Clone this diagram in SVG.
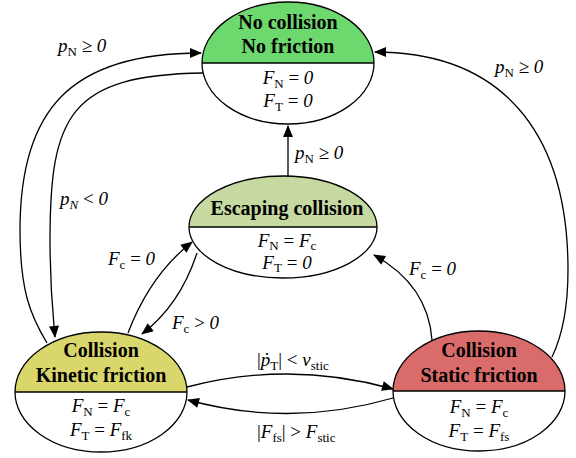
<svg xmlns="http://www.w3.org/2000/svg" width="576" height="458" viewBox="0 0 576 458">
<style>
text{font-family:'Liberation Serif','Tinos','DejaVu Serif','Noto Serif',serif;fill:#000}
.t{font-size:20px;font-weight:bold;text-anchor:middle}
.m{font-size:19px}
.mc{font-size:19px;text-anchor:middle}
.i{font-style:italic}
.s{font-size:13px}
.e{fill:none;stroke:#000;stroke-width:1.3}
.d{stroke:#000;stroke-width:1.6}
.c{fill:none;stroke:#000;stroke-width:1.3;marker-end:url(#ah)}
</style>
<defs>
<marker id="ah" viewBox="0 0 12 10" refX="11" refY="5" markerWidth="13" markerHeight="10" markerUnits="userSpaceOnUse" orient="auto">
<path d="M0,0 L12,5 L0,10 Z" fill="#000"/>
</marker>
</defs>
<rect width="576" height="458" fill="#fff"/>

<g id="connectors">
<path class="c" d="M47,343 C30,315 20,290 20,230 C20,110 70,53 201,53"/>
<path class="c" d="M203,73 C70,75 50,115 50,240 C50,290 53,315 55,337"/>
<path class="c" d="M552,357 C565,330 568,300 568,270 C568,130 500,52 375,52"/>
<path class="c" d="M288,179 L288,126"/>
<path class="c" d="M432,340 Q428,285 374,255"/>
<path class="c" d="M128,333 Q150,275 192,242"/>
<path class="c" d="M197,253 Q180,305 142,334"/>
<path class="c" d="M187,387 Q290,360 393,389"/>
<path class="c" d="M393,398 Q290,428 188,400"/>
</g>

<g id="labels">
<text class="m" x="58" y="52"><tspan class="i">p</tspan><tspan class="s" dy="4">N</tspan><tspan dy="-4"> ≥ </tspan><tspan class="i">0</tspan></text>
<text class="m" x="60" y="205"><tspan class="i">p</tspan><tspan class="s i" dy="4">N</tspan><tspan dy="-4"> &lt; </tspan><tspan class="i">0</tspan></text>
<text class="m" x="495" y="73"><tspan class="i">p</tspan><tspan class="s" dy="4">N</tspan><tspan dy="-4"> ≥ </tspan><tspan class="i">0</tspan></text>
<text class="m" x="295" y="159"><tspan class="i">p</tspan><tspan class="s" dy="4">N</tspan><tspan dy="-4"> ≥ </tspan><tspan class="i">0</tspan></text>
<text class="m" x="409" y="275"><tspan class="i">F</tspan><tspan class="s" dy="4">c</tspan><tspan dy="-4"> = </tspan><tspan class="i">0</tspan></text>
<text class="m" x="108" y="265"><tspan class="i">F</tspan><tspan class="s" dy="4">c</tspan><tspan dy="-4"> = </tspan><tspan class="i">0</tspan></text>
<text class="m" x="172" y="329"><tspan class="i">F</tspan><tspan class="s" dy="4">c</tspan><tspan dy="-4"> &gt; </tspan><tspan class="i">0</tspan></text>
<text class="m" x="257" y="366">|<tspan class="i">ṗ</tspan><tspan class="s" dy="4">T</tspan><tspan dy="-4">| &lt; </tspan><tspan class="i">v</tspan><tspan class="s" dy="4">stic</tspan></text>
<text class="m" x="257" y="438">|<tspan class="i">F</tspan><tspan class="s" dy="4">fs</tspan><tspan dy="-4">| &gt; </tspan><tspan class="i">F</tspan><tspan class="s" dy="4">stic</tspan></text>
</g>

<g id="no-collision">
<path d="M202,63 A86,61 0 0 1 374,63 Z" fill="#6dd86d"/>
<ellipse class="e" cx="288" cy="63" rx="86" ry="61"/>
<line class="d" x1="202" y1="63" x2="374" y2="63"/>
<text class="t" x="288" y="29">No collision</text>
<text class="t" x="288" y="53">No friction</text>
<text class="mc" x="288" y="84"><tspan class="i">F</tspan><tspan class="s" dy="4">N</tspan><tspan dy="-4"> = </tspan><tspan class="i">0</tspan></text>
<text class="mc" x="288" y="107"><tspan class="i">F</tspan><tspan class="s" dy="4">T</tspan><tspan dy="-4"> = </tspan><tspan class="i">0</tspan></text>
</g>

<g id="escaping">
<path d="M189,227 A94,51 0 0 1 377,227 Z" fill="#c5d9a0"/>
<ellipse class="e" cx="283" cy="227" rx="94" ry="51"/>
<line class="d" x1="189" y1="227" x2="377" y2="227"/>
<text class="t" x="287" y="215">Escaping collision</text>
<text class="mc" x="287" y="247"><tspan class="i">F</tspan><tspan class="s" dy="3">N</tspan><tspan dy="-3"> = </tspan><tspan class="i">F</tspan><tspan class="s" dy="3">c</tspan></text>
<text class="mc" x="287" y="269"><tspan class="i">F</tspan><tspan class="s" dy="3">T</tspan><tspan dy="-3"> = </tspan><tspan class="i">0</tspan></text>
</g>

<g id="kinetic">
<path d="M15,392 A86,60 0 0 1 187,392 Z" fill="#d9d66b"/>
<ellipse class="e" cx="101" cy="392" rx="86" ry="60"/>
<line class="d" x1="15" y1="392" x2="187" y2="392"/>
<text class="t" x="101" y="357">Collision</text>
<text class="t" x="101" y="382">Kinetic friction</text>
<text class="mc" x="101" y="412"><tspan class="i">F</tspan><tspan class="s" dy="4">N</tspan><tspan dy="-4"> = </tspan><tspan class="i">F</tspan><tspan class="s" dy="4">c</tspan></text>
<text class="mc" x="101" y="436"><tspan class="i">F</tspan><tspan class="s" dy="4">T</tspan><tspan dy="-4"> = </tspan><tspan class="i">F</tspan><tspan class="s" dy="4">fk</tspan></text>
</g>

<g id="static">
<path d="M393,391 A86,60 0 0 1 565,391 Z" fill="#d96b6b"/>
<ellipse class="e" cx="479" cy="391" rx="86" ry="60"/>
<line class="d" x1="393" y1="391" x2="565" y2="391"/>
<text class="t" x="479" y="357">Collision</text>
<text class="t" x="479" y="382">Static friction</text>
<text class="mc" x="479" y="413"><tspan class="i">F</tspan><tspan class="s" dy="4">N</tspan><tspan dy="-4"> = </tspan><tspan class="i">F</tspan><tspan class="s" dy="4">c</tspan></text>
<text class="mc" x="479" y="437"><tspan class="i">F</tspan><tspan class="s" dy="4">T</tspan><tspan dy="-4"> = </tspan><tspan class="i">F</tspan><tspan class="s" dy="4">fs</tspan></text>
</g>
</svg>
